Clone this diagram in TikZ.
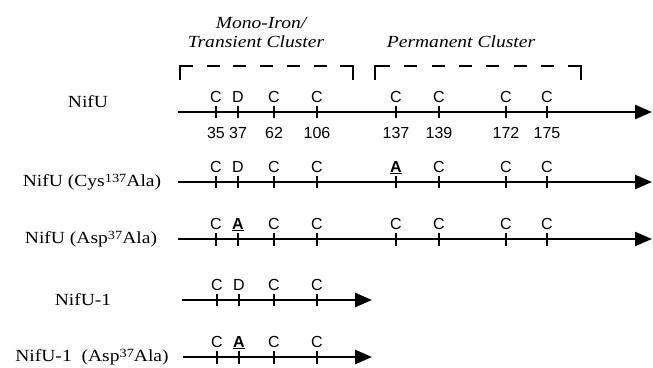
\documentclass[tikz,border=0pt]{standalone}
\usepackage{fontspec}
\setmainfont{Liberation Serif}[FakeStretch=1.15]
\setsansfont{Liberation Sans}
\usetikzlibrary{arrows.meta}
\newcommand{\supnum}[1]{\raisebox{4pt}{\fontsize{12.5}{12.5}\selectfont #1}}
\begin{document}
\begin{tikzpicture}[x=1pt,y=-1pt,
  axis/.style={line width=2.6pt,-{Triangle[length=17pt,width=14pt]}},
  tickline/.style={line width=1.2pt},
  res/.style={font=\sffamily\fontsize{16}{16}\selectfont, anchor=base, inner sep=0pt},
  lab/.style={font=\fontsize{17}{18}\selectfont, anchor=base, inner sep=0pt},
  hdr/.style={font=\itshape\fontsize{17}{18}\selectfont, anchor=base, inner sep=0pt},
  brk/.style={line width=2.5pt, line join=miter, line cap=butt}]
\useasboundingbox (0,0) rectangle (653,367);

% headers
\node[hdr] (h1) at (261,28) {Mono-Iron/};
\node[hdr] (h2) at (256,47) {Transient Cluster};
\node[hdr] (h3) at (461,47) {Permanent Cluster};

% brackets
\coordinate (b1a) at (180,80); \coordinate (b1b) at (180,66);
\coordinate (b1c) at (193,66); \coordinate (b1d) at (340,66);
\coordinate (b1e) at (353,66); \coordinate (b1f) at (353,80);
\draw[brk] (b1a) -- (b1b) -- (b1c);
\draw[brk, dash pattern=on 13pt off 13.7pt, dash phase=13pt] (b1c) -- (b1d);
\draw[brk] (b1d) -- (b1e) -- (b1f);
\coordinate (b2a) at (375,80); \coordinate (b2b) at (375,66);
\coordinate (b2c) at (390,66); \coordinate (b2d) at (568,66);
\coordinate (b2e) at (581,66); \coordinate (b2f) at (581,80);
\draw[brk] (b2a) -- (b2b) -- (b2c);
\draw[brk, dash pattern=on 13pt off 14.3pt, dash phase=13pt] (b2c) -- (b2d);
\draw[brk] (b2d) -- (b2e) -- (b2f);

% row 1: NifU
\node[lab] (l1) at (88,107) {NifU};
\coordinate (r1s) at (178,112); \coordinate (r1e) at (652,112);
\draw[axis] (r1s) -- (r1e);
\foreach \x/\l/\n in {216/C/35,238/D/37,274/C/62,317/C/106,396/C/137,439/C/139,506/C/172,547/C/175}{
  \draw[tickline] (\x,106) -- (\x,118);
  \node[res] (r1l\n) at (\x,102) {\l};
  \node[res] (r1n\n) at (\x,138) {\n};
}

% row 2: NifU (Cys137Ala)
\node[lab] (l2) at (92,186) {NifU (Cys\supnum{137}Ala)};
\coordinate (r2s) at (178,182); \coordinate (r2e) at (652,182);
\draw[axis] (r2s) -- (r2e);
\foreach \x/\l/\n in {216/C/35,238/D/37,274/C/62,317/C/106,396/{\underline{\textbf{A}}}/137,439/C/139,506/C/172,547/C/175}{
  \draw[tickline] (\x,176) -- (\x,188);
  \node[res] (r2l\n) at (\x,172) {\l};
}

% row 3: NifU (Asp37Ala)
\node[lab] (l3) at (91,243) {NifU (Asp\supnum{37}Ala)};
\coordinate (r3s) at (178,239); \coordinate (r3e) at (652,239);
\draw[axis, line width=2.2pt] (r3s) -- (r3e);
\foreach \x/\l/\n in {216/C/35,238/{\underline{\textbf{A}}}/37,274/C/62,317/C/106,396/C/137,439/C/139,506/C/172,547/C/175}{
  \draw[tickline] (\x,233) -- (\x,246);
  \node[res] (r3l\n) at (\x,229) {\l};
}

% row 4: NifU-1
\node[lab] (l4) at (83,305) {NifU-1};
\coordinate (r4s) at (182,300); \coordinate (r4e) at (372,300);
\draw[axis] (r4s) -- (r4e);
\foreach \x/\l/\n in {217/C/35,239/D/37,274/C/62,317/C/106}{
  \draw[tickline] (\x,294) -- (\x,306);
  \node[res] (r4l\n) at (\x,290) {\l};
}

% row 5: NifU-1 (Asp37Ala)
\node[lab] (l5) at (92,361) {NifU-1\ \ (Asp\supnum{37}Ala)};
\coordinate (r5s) at (183,357); \coordinate (r5e) at (372,357);
\draw[axis] (r5s) -- (r5e);
\foreach \x/\l/\n in {217/C/35,239/{\underline{\textbf{A}}}/37,274/C/62,317/C/106}{
  \draw[tickline] (\x,351) -- (\x,364);
  \node[res] (r5l\n) at (\x,347) {\l};
}
\end{tikzpicture}
\end{document}
